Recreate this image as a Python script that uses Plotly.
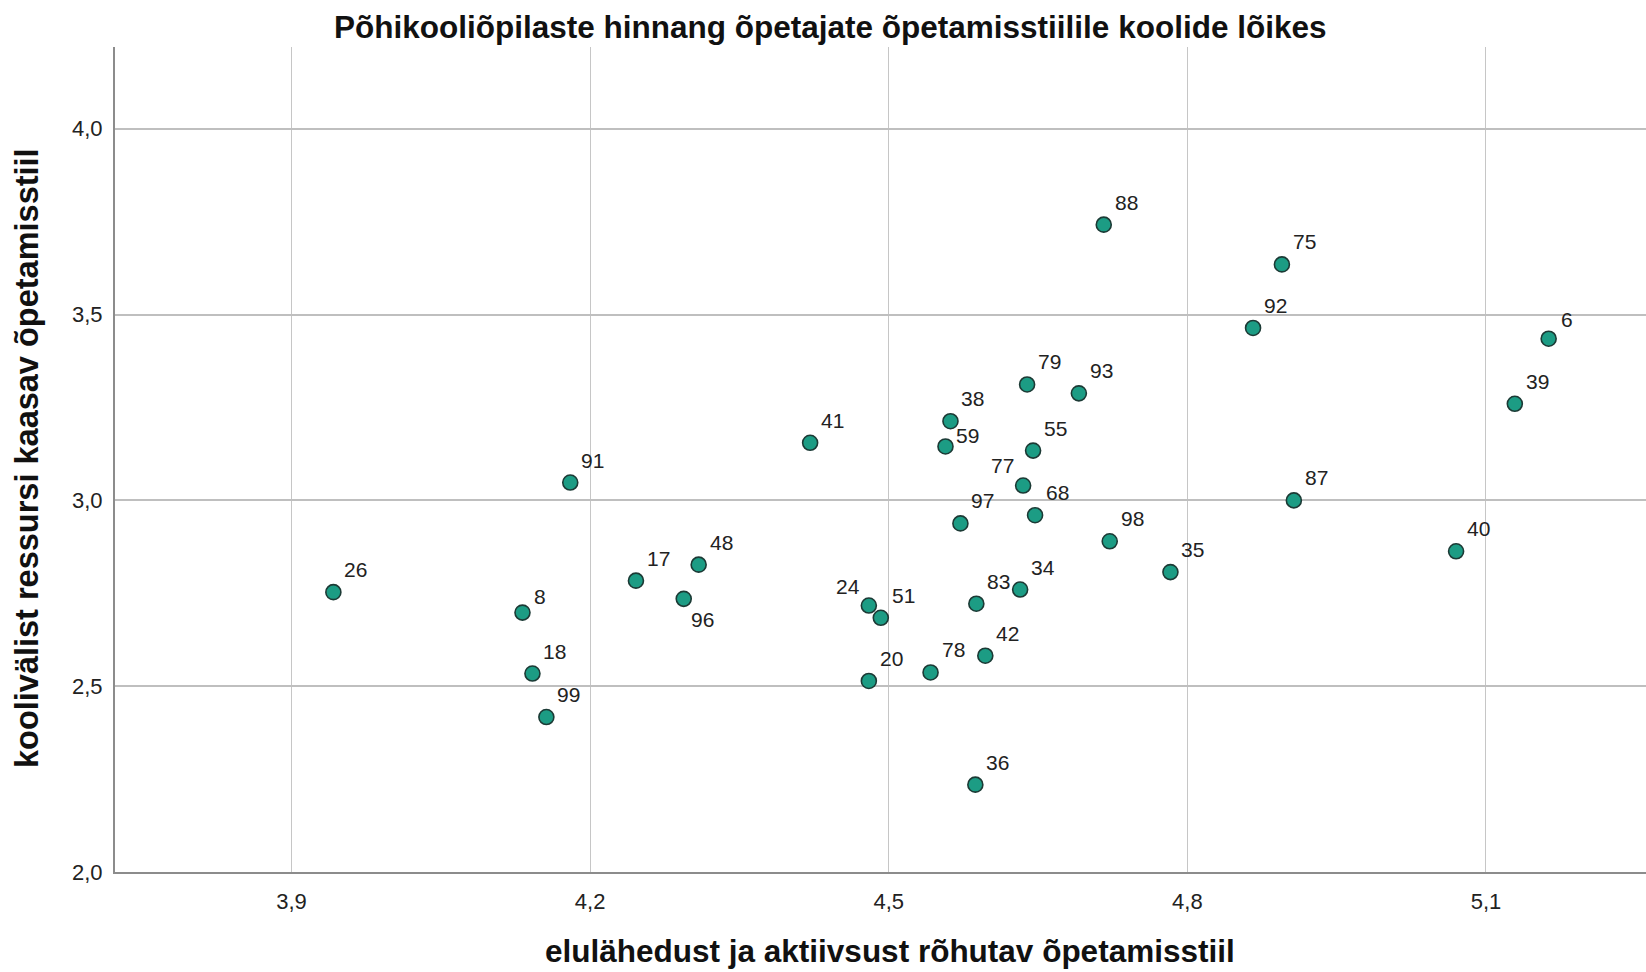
import plotly.graph_objects as go

# ---- data ----
school_ids = ["26", "8", "18", "99", "91", "17", "96", "48", "41", "24", "51", "20",
              "78", "83", "42", "36", "97", "38", "59", "79", "55", "77", "68", "34",
              "93", "88", "98", "35", "92", "75", "87", "40", "39", "6"]
x_values = [3.942, 4.132, 4.142, 4.156, 4.180, 4.246, 4.294, 4.309, 4.421, 4.480, 4.492, 4.480,
            4.542, 4.588, 4.597, 4.587, 4.572, 4.562, 4.557, 4.639, 4.645, 4.635, 4.647, 4.632,
            4.691, 4.716, 4.722, 4.783, 4.866, 4.895, 4.907, 5.070, 5.129, 5.163]
y_values = [2.753, 2.698, 2.534, 2.417, 3.048, 2.784, 2.735, 2.827, 3.155, 2.717, 2.684, 2.514,
            2.537, 2.722, 2.582, 2.235, 2.938, 3.213, 3.145, 3.312, 3.134, 3.040, 2.960, 2.760,
            3.288, 3.742, 2.890, 2.807, 3.464, 3.635, 3.000, 2.863, 3.260, 3.435]
x_ticks = [3.9, 4.2, 4.5, 4.8, 5.1]
y_ticks = [2.0, 2.5, 3.0, 3.5, 4.0]

title_text = "Põhikooliõpilaste hinnang õpetajate õpetamisstiilile koolide lõikes"
x_title = "elulähedust ja aktiivsust rõhutav õpetamisstiil"
y_title = "koolivälist ressursi kaasav õpetamisstiil"

# ---- label placement (style) ----
default_place = dict(xanchor="left", xshift=9, yshift=22.5)
place_override = {
    "6": dict(xanchor="left", xshift=10, yshift=19),
    "8": dict(xanchor="left", xshift=10, yshift=16),
    "96": dict(xanchor="left", xshift=5, yshift=-21),
    "24": dict(xanchor="right", xshift=-7, yshift=19.5),
    "77": dict(xanchor="right", xshift=-7, yshift=20),
    "59": dict(xanchor="left", xshift=9, yshift=10.7),
}

FONT = "Liberation Sans, Arial, sans-serif"
W, H = 1646, 972
L, R, T, B = 115, 0, 47, 100

fig = go.Figure()
fig.add_trace(go.Scatter(
    x=x_values, y=y_values, mode="markers",
    marker=dict(size=15, color="#1c9c84", line=dict(color="#1c3a35", width=1.6)),
    hoverinfo="skip", showlegend=False,
))

annotations = []
for sid, xv, yv in zip(school_ids, x_values, y_values):
    p = place_override.get(sid, default_place)
    annotations.append(dict(
        x=xv, y=yv, xref="x", yref="y", text=sid, showarrow=False,
        xanchor=p["xanchor"], yanchor="middle", xshift=p["xshift"], yshift=p["yshift"],
        font=dict(family=FONT, size=21, color="#222222"),
    ))

plot_w = W - L - R
plot_h = H - T - B
def px_to_paper_x(px):
    return (px - L) / plot_w
def px_to_paper_y(py):
    return (H - B - py) / plot_h

annotations.append(dict(
    x=px_to_paper_x(830), y=px_to_paper_y(27), xref="paper", yref="paper",
    text="<b>" + title_text + "</b>", showarrow=False, xanchor="center", yanchor="middle",
    font=dict(family=FONT, size=31.5, color="#111111"),
))
annotations.append(dict(
    x=px_to_paper_x(889.5), y=px_to_paper_y(951), xref="paper", yref="paper",
    text="<b>" + x_title + "</b>", showarrow=False, xanchor="center", yanchor="middle",
    font=dict(family=FONT, size=31.5, color="#111111"),
))
annotations.append(dict(
    x=px_to_paper_x(27), y=px_to_paper_y(458), xref="paper", yref="paper",
    text="<b>" + y_title + "</b>", showarrow=False, xanchor="center", yanchor="middle",
    textangle=-90,
    font=dict(family=FONT, size=32.5, color="#111111"),
))

fig.update_layout(
    width=W, height=H,
    margin=dict(l=L, r=R, t=T, b=B, pad=0),
    paper_bgcolor="white", plot_bgcolor="white",
    separators=", ",
    annotations=annotations,
    xaxis=dict(
        range=[3.7226, 5.2608], tickvals=x_ticks, tickformat=".1f",
        showgrid=True, gridcolor="#c6c6c6", gridwidth=1.3,
        showline=True, linecolor="#8c8c8c", linewidth=2.2,
        zeroline=False, ticks="", ticklabelstandoff=8,
        tickfont=dict(family=FONT, size=22, color="#222222"),
    ),
    yaxis=dict(
        range=[2.0, 4.22], tickvals=y_ticks, tickformat=".1f",
        showgrid=True, gridcolor="#bfbfbf", gridwidth=2,
        showline=True, linecolor="#8c8c8c", linewidth=2.2,
        zeroline=False, ticks="", ticklabelstandoff=6,
        tickfont=dict(family=FONT, size=22, color="#222222"),
    ),
)

fig.write_html("out.html",
               config={"displayModeBar": False},
               post_script="document.body.style.margin='0';document.body.style.overflow='hidden';")
